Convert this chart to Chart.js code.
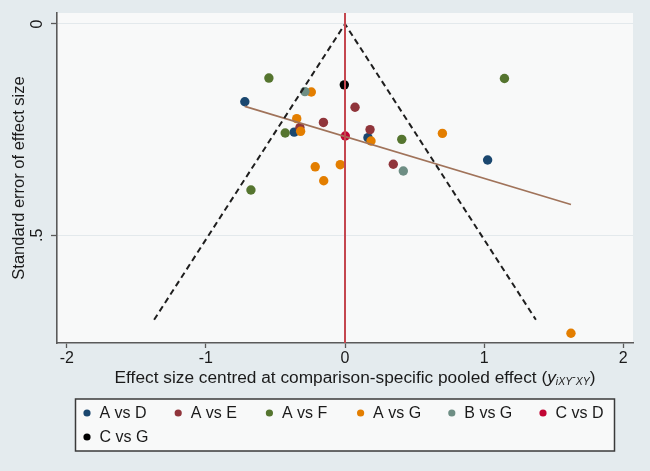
<!DOCTYPE html>
<html>
<head>
<meta charset="utf-8">
<script src="https://cdn.jsdelivr.net/npm/chart.js@4.4.1/dist/chart.umd.min.js"></script>
<style>
  html, body { margin: 0; padding: 0; background: #e4ebee; }
  #wrap { width: 650px; height: 471px; }
</style>
</head>
<body>
<div id="wrap"><canvas id="funnel" width="650" height="471"></canvas></div>
<script>
// comparisons and their colours
const groups = ['A vs D', 'A vs E', 'A vs F', 'A vs G', 'B vs G', 'C vs D', 'C vs G'];
const groupColors = ['#1a476f', '#90353b', '#55752f', '#e37e00', '#6e8e84', '#c10534', '#000000'];

// centred effect size (x) and standard error (se) per comparison
const aVsD_x  = [-0.720, -0.365, 0.165, 1.025];
const aVsD_se = [0.184, 0.256, 0.269, 0.322];
const aVsE_x  = [0.072, -0.155, -0.324, 0.180, 0.347];
const aVsE_se = [0.197, 0.233, 0.245, 0.250, 0.332];
const aVsF_x  = [-0.547, -0.430, 0.408, 1.146, -0.676];
const aVsF_se = [0.128, 0.258, 0.273, 0.129, 0.393];
const aVsG_x  = [-0.242, -0.347, -0.319, 0.187, 0.700, -0.214, -0.034, -0.153, 1.624];
const aVsG_se = [0.161, 0.224, 0.254, 0.277, 0.259, 0.338, 0.333, 0.371, 0.732];
const bVsG_x  = [-0.288, 0.419];
const bVsG_se = [0.160, 0.348];
const cVsD_x  = [0.002];
const cVsD_se = [0.265];
const cVsG_x  = [-0.005];
const cVsG_se = [0.144];

// pseudo 95% limits and fitted line
const funnelX  = [-1.372, 0, 1.372];
const funnelSe = [0.700, 0, 0.700];
const fitX  = [-0.720, 1.624];
const fitSe = [0.195, 0.427];

// axes
const xMin = -2.07, xMax = 2.07;
const yMin = -0.026, yMax = 0.755;
const xTicks = [-2, -1, 0, 1, 2];
const yTicks = [0, 0.5];
const yTickLabels = ['0', '.5'];

const FONT = '"Liberation Sans", Arial, sans-serif';

function pts(xs, ys) {
    return xs.map(function(x, i) { return { x: x, y: ys[i] }; });
}

const seriesX = [aVsD_x, aVsE_x, aVsF_x, aVsG_x, bVsG_x, cVsD_x, cVsG_x];
const seriesSe = [aVsD_se, aVsE_se, aVsF_se, aVsG_se, bVsG_se, cVsD_se, cVsG_se];

var datasets = [];

// lines first so they sit on top
datasets.push({
    type: 'line', label: 'ref', data: pts([0, 0], [yMin, yMax]),
    borderColor: '#c4474f', borderWidth: 2, pointRadius: 0, order: 0
});
datasets.push({
    type: 'line', label: 'funnel', data: pts(funnelX, funnelSe),
    borderColor: '#1e1e1e', borderWidth: 2, borderDash: [6, 4], pointRadius: 0, order: 0
});
datasets.push({
    type: 'line', label: 'fit', data: pts(fitX, fitSe),
    borderColor: '#a0735a', borderWidth: 1.6, pointRadius: 0, order: 0
});

groups.forEach(function(g, i) {
    datasets.push({
        type: 'scatter', label: g, data: pts(seriesX[i], seriesSe[i]),
        backgroundColor: groupColors[i], borderWidth: 0,
        pointRadius: 4.7, order: 10 - i
    });
});

// plot background, rotated y labels, titles, stata-ish legend
const decor = {
    id: 'decor',
    beforeDraw: function(chart) {
        const c = chart.ctx, a = chart.chartArea;
        c.save();
        c.fillStyle = '#f8f9f9';
        c.fillRect(a.left, a.top, a.right - a.left, a.bottom - a.top);
        c.restore();
    },
    afterDraw: function(chart) {
        const c = chart.ctx, a = chart.chartArea;
        const ys = chart.scales.y, xs = chart.scales.x;
        c.save();
        c.fillStyle = '#1a1a1a';
        c.textAlign = 'center';
        c.textBaseline = 'middle';
        c.font = '16px ' + FONT;

        // y tick labels, vertical
        yTicks.forEach(function(v, i) {
            c.save();
            c.translate(38, ys.getPixelForValue(v));
            c.rotate(-Math.PI / 2);
            c.fillText(yTickLabels[i], 0, 0);
            c.restore();
        });

        // y title
        c.save();
        c.font = '16.5px ' + FONT;
        c.translate(19, (a.top + a.bottom) / 2);
        c.rotate(-Math.PI / 2);
        c.fillText('Standard error of effect size', 0, 0);
        c.restore();

        // x title with italic subscripts
        const parts = [
            { t: 'Effect size centred at comparison-specific pooled effect (', f: '17.3px ' + FONT, dy: 0 },
            { t: 'y', f: 'italic 17.3px ' + FONT, dy: 0 },
            { t: 'iXY', f: 'italic 10.5px ' + FONT, dy: 4 },
            { t: '-', f: '10.5px ' + FONT, dy: -1 },
            { t: 'XY', f: 'italic 10.5px ' + FONT, dy: 4 },
            { t: ')', f: '17.3px ' + FONT, dy: 0 }
        ];
        var total = 0;
        parts.forEach(function(p) { c.font = p.f; p.w = c.measureText(p.t).width; total += p.w; });
        var px = xs.getPixelForValue(0) + 10 - total / 2;
        c.textAlign = 'left';
        parts.forEach(function(p) {
            c.font = p.f;
            c.fillText(p.t, px, 378 + p.dy);
            px += p.w;
        });

        // legend box
        const bx = 75.5, by = 399, bw = 539, bh = 52;
        c.fillStyle = '#f8f9f9';
        c.fillRect(bx, by, bw, bh);
        c.strokeStyle = '#3a3a3a';
        c.lineWidth = 1.5;
        c.strokeRect(bx, by, bw, bh);
        c.font = '16px ' + FONT;
        c.textBaseline = 'middle';
        groups.forEach(function(g, i) {
            const col = i % 6, row = Math.floor(i / 6);
            const dx = 87 + col * 91.2, dy = 413 + row * 24;
            c.beginPath();
            c.arc(dx, dy, 3.6, 0, Math.PI * 2);
            c.fillStyle = groupColors[i];
            c.fill();
            c.fillStyle = '#1a1a1a';
            c.fillText(g, dx + 12.5, dy + 1);
        });
        c.restore();
    }
};

new Chart(document.getElementById('funnel').getContext('2d'), {
    type: 'scatter',
    data: { datasets: datasets },
    options: {
        responsive: false,
        animation: false,
        layout: { padding: { left: 0, top: 13, right: 17, bottom: 0 } },
        plugins: { legend: { display: false }, tooltip: { enabled: false } },
        scales: {
            x: {
                type: 'linear', min: xMin, max: xMax,
                afterBuildTicks: function(s) { s.ticks = xTicks.map(function(v) { return { value: v }; }); },
                afterFit: function(s) { s.height = 128; },
                grid: { drawOnChartArea: false, tickColor: '#5a5a5a', tickLength: 5, tickWidth: 1.3 },
                border: { color: '#5a5a5a', width: 1.6 },
                ticks: {
                    color: '#1a1a1a', padding: 1, maxRotation: 0,
                    font: { size: 16, family: FONT },
                    callback: function(v) { return String(v); }
                }
            },
            y: {
                type: 'linear', min: yMin, max: yMax, reverse: true,
                afterBuildTicks: function(s) { s.ticks = yTicks.map(function(v) { return { value: v }; }); },
                afterFit: function(s) { s.width = 57; },
                grid: { color: '#e3e9ec', lineWidth: 1, tickColor: '#5a5a5a', tickLength: 6, tickWidth: 1.3 },
                border: { color: '#5a5a5a', width: 1.6 },
                ticks: { display: false }
            }
        }
    },
    plugins: [decor]
});
</script>
</body>
</html>
